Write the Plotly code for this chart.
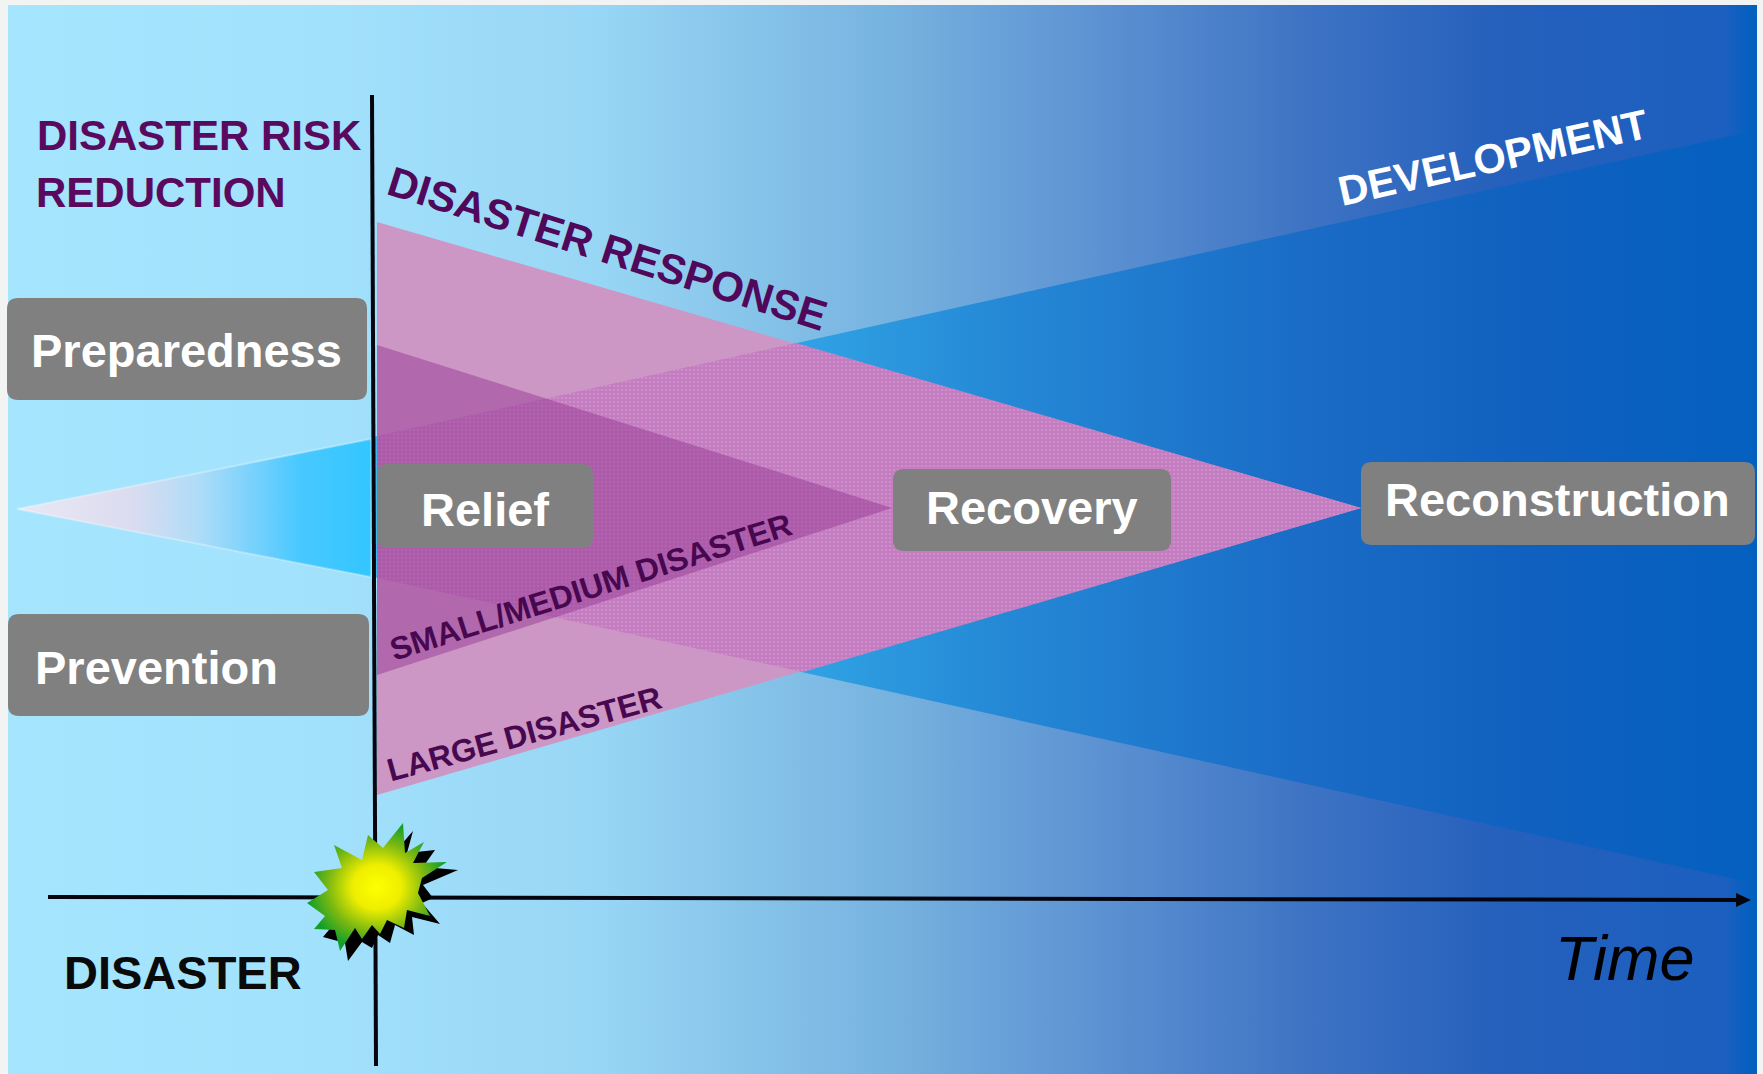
import plotly.graph_objects as go

W, H = 1763, 1074
SANS = "Liberation Sans"

# Background gradient: stops along the x axis and their colours
bg_box = [8, 1757, 5, 1074]
bg_stops = [8, 300, 600, 880, 1100, 1300, 1500, 1725, 1750, 1757]
bg_colors = ["#a5e5fe", "#a3e2fc", "#98d6f5", "#78b4e0", "#5c92d2", "#3f74c4", "#2560bc", "#1c5fbf", "#0460bf", "#0460bf"]

# Development wedge (left and right of the disaster line)
wedge_left_x = [17, 371, 371]
wedge_left_y = [509, 439, 577]
wedge_left_stops = [17, 130, 200, 300, 371]
wedge_left_colors = ["#e8e8f4", "#dcdcf0", "#aedcf8", "#48c8ff", "#33c6ff"]
wedge_right_x = [373, 1757, 1757, 373]
wedge_right_y = [437, 130, 884, 577]
wedge_right_stops = [373, 820, 1000, 1300, 1550, 1757]
wedge_right_colors = ["#38b8f0", "#2fa0e3", "#2589d6", "#1a6cc6", "#0f60bf", "#0460bf"]

# Pink response triangles
large_x = [377, 1361, 377]
large_y = [222, 508, 795]
overlap_x = [377, 796, 1361, 803, 377]
overlap_y = [436, 343, 508, 672, 578]
small_x = [377, 892, 377]
small_y = [345, 508, 675]

# Axes
vline_x = [372, 376]
vline_y = [95, 1066]
hline_x = [48, 1740]
hline_y = [897, 900]
arrow_x = [1736, 1751, 1736]
arrow_y = [893, 900, 907]

# Starburst, in pixels
star_x = [403, 405, 424, 413, 447, 422, 418, 430, 407, 404, 387, 380, 372, 362, 355, 340, 335, 314, 325, 307, 328, 314, 342, 334, 362, 368, 383]
star_y = [823, 853, 842, 863, 862, 878, 893, 916, 910, 928, 920, 934, 925, 939, 928, 951, 930, 929, 916, 903, 890, 872, 868, 845, 860, 835, 848]
shadow_x = [413, 407, 435, 423, 458, 423, 433, 422, 440, 412, 414, 395, 390, 378, 372, 362, 348, 345, 323, 373]
shadow_y = [831, 853, 850, 867, 870, 885, 898, 903, 924, 917, 935, 925, 943, 935, 948, 942, 961, 943, 937, 877]

# Grey boxes: label, left, right, top, bottom, text centre x, text centre y
box_labels = ["Preparedness", "Prevention", "Relief", "Recovery", "Reconstruction"]
box_left = [7, 8, 377, 893, 1361]
box_right = [367, 369, 593, 1171, 1755]
box_top = [298, 614, 464, 469, 462]
box_bottom = [400, 716, 548, 551, 545]
box_text_x = [186, 156, 485, 1032, 1557]
box_text_y = [350, 667, 509, 507, 499]

# Other texts
note_labels = ["DISASTER RISK", "REDUCTION", "DISASTER RESPONSE", "DEVELOPMENT",
               "SMALL/MEDIUM DISASTER", "LARGE DISASTER", "DISASTER", "<i>Time</i>"]
note_x = [199, 161, 607, 1493, 591, 524, 183, 1624]
note_y = [135, 192, 248, 157, 587, 734, 972, 958]
note_angle = [0, 0, 17.5, -12.6, -17.6, -15.2, 0, 0]
note_size = [42, 42, 42, 41.5, 32, 32, 47, 63]
note_color = ["#5a0a5e", "#5a0a5e", "#50085a", "#ffffff", "#480850", "#480850", "#0a0a0a", "#000000"]
note_bold = [True, True, True, True, True, True, True, False]


def scale(stops, colors):
    lo, hi = stops[0], stops[-1]
    return [[(s - lo) / (hi - lo), c] for s, c in zip(stops, colors)]


def poly(x, y, fill=None, gradient=None, **extra):
    kw = dict(fillgradient=gradient) if gradient else dict(fillcolor=fill)
    return go.Scatter(x=x, y=y, mode="lines", fill="toself", line=dict(width=0),
                      hoverinfo="skip", showlegend=False, **kw, **extra)


def rounded(l, r, t, b, c=11):
    return (f"M{l+c},{t} L{r-c},{t} Q{r},{t} {r},{t+c} L{r},{b-c} Q{r},{b} {r-c},{b} "
            f"L{l+c},{b} Q{l},{b} {l},{b-c} L{l},{t+c} Q{l},{t} {l+c},{t} Z")


fig = go.Figure()
fig.add_trace(poly([bg_box[0], bg_box[1], bg_box[1], bg_box[0]],
                   [bg_box[2], bg_box[2], bg_box[3], bg_box[3]],
                   gradient=dict(type="horizontal", colorscale=scale(bg_stops, bg_colors))))
fig.add_trace(poly(wedge_left_x, wedge_left_y,
                   gradient=dict(type="horizontal", colorscale=scale(wedge_left_stops, wedge_left_colors))))
fig.add_trace(go.Scatter(x=wedge_left_x + wedge_left_x[:1], y=wedge_left_y + wedge_left_y[:1], mode="lines",
                         line=dict(width=2, color="rgba(255,255,255,0.3)"), hoverinfo="skip", showlegend=False))
fig.add_trace(poly(wedge_right_x, wedge_right_y,
                   gradient=dict(type="horizontal", colorscale=scale(wedge_right_stops, wedge_right_colors))))
fig.add_trace(poly(large_x, large_y, fill="#cc97c5"))
fig.add_trace(poly(overlap_x, overlap_y, fill="#c47bbf",
                   fillpattern=dict(shape=".", size=4, solidity=0.35, fgcolor="#cf93cf", fgopacity=0.8)))
fig.add_trace(poly(small_x, small_y, fill="rgba(150,58,148,0.5)"))

for lx, ly in ((vline_x, vline_y), (hline_x, hline_y)):
    fig.add_trace(go.Scatter(x=lx, y=ly, mode="lines", line=dict(width=4, color="#050510"),
                             hoverinfo="skip", showlegend=False))
fig.add_trace(poly(arrow_x, arrow_y, fill="#050510"))
fig.add_trace(poly(shadow_x, shadow_y, fill="#000000"))
fig.add_trace(poly(star_x, star_y, gradient=dict(
    type="radial",
    colorscale=[[0, "#ffff00"], [0.35, "#eeee00"], [0.7, "#7cb812"], [1, "#14a028"]])))

shapes = [dict(type="path", path=rounded(l, r, t, b), fillcolor="#808080", line=dict(width=0))
          for l, r, t, b in zip(box_left, box_right, box_top, box_bottom)]

annotations = [dict(x=x, y=y, text=f"<b>{t}</b>", showarrow=False, xanchor="center", yanchor="middle",
                    font=dict(family=SANS, size=47, color="#ffffff"))
               for t, x, y in zip(box_labels, box_text_x, box_text_y)]
for t, x, y, a, s, c, b in zip(note_labels, note_x, note_y, note_angle, note_size, note_color, note_bold):
    annotations.append(dict(x=x, y=y, text=f"<b>{t}</b>" if b else t, showarrow=False, xanchor="center",
                            yanchor="middle", textangle=a, font=dict(family=SANS, size=s, color=c)))

fig.update_layout(
    width=W, height=H, margin=dict(l=0, r=0, t=0, b=0), paper_bgcolor="#f2f4f4", plot_bgcolor="#f2f4f4",
    xaxis=dict(range=[0, W], visible=False, fixedrange=True),
    yaxis=dict(range=[H, 0], visible=False, fixedrange=True),
    shapes=shapes, annotations=annotations, showlegend=False,
)
fig.write_html("out.html", config={"displayModeBar": False},
               post_script="document.body.style.margin='0';document.body.style.overflow='hidden';")
